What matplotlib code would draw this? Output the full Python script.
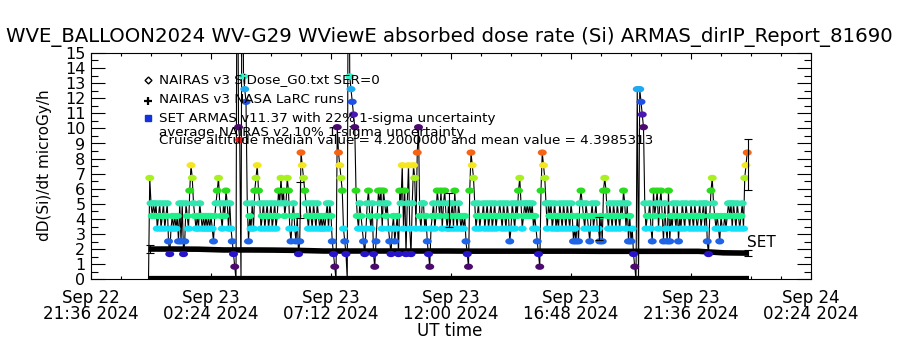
"""ARMAS balloon dose rate vs NAIRAS, WVE_BALLOON2024 flight."""

import matplotlib
matplotlib.use("Agg")
import matplotlib.dates as mdates
import matplotlib.pyplot as plt
import numpy as np
import pandas as pd
from matplotlib.path import Path
from matplotlib.ticker import FixedLocator, MultipleLocator

TITLE = "WVE_BALLOON2024 WV-G29 WViewE absorbed dose rate (Si) ARMAS_dirIP_Report_81690"

T_AXIS_START = pd.Timestamp("2024-09-22 21:36")
T_AXIS_END = pd.Timestamp("2024-09-24 02:24")

# ARMAS samples: 3-min cadence, one string per hour, one char per sample.
# char = dose level (int base 36): dose = level * 0.84 microGy/h, 'z' = off scale
ARMAS_START = pd.Timestamp("2024-09-22 23:54")
ARMAS_STEP_MIN = 3
DOSE_STEP = 0.84
ARMAS_HOURLY = [
    "08656564564564563245", "45453636236547986545", "46545454545435678654",
    "65764643210zcb0zgfe6", "35464789764564564564", "56457686756874356435",
    "23a98765465465465454", "54564653210ca9874320", "zgfedc75465432467546",
    "21357674765643245345", "276947269426984ac546", "64532145645765746754",
    "645647546545453217a9", "86456455645645645645", "56546546534654657864",
    "565656564543217a9864", "65645645465465465465", "34353676546543564564",
    "43537875465465465465", "76463534210f0fedc645", "56437567467536437354",
    "65463546546554654654", "56456463257865454354", "4545656465465456489a",
]

# ARMAS 22% 1-sigma error bars
ARMAS_ERR_TIMES = ["2024-09-23 05:58", "2024-09-23 11:55", "2024-09-23 17:55", "2024-09-23 23:53"]
ARMAS_ERR_CENTER = [5.26, 4.60, 3.37, 7.60]
ARMAS_ERR_HALF = [1.17, 1.10, 0.76, 1.70]

# NAIRAS v3 NASA LaRC runs, hourly from ARMAS_START
NAIRAS_HOURLY = [2.01, 2.01, 2.00, 1.95, 1.95, 1.94, 1.92, 1.88, 1.88, 1.88,
                 1.88, 1.88, 1.88, 1.87, 1.87, 1.87, 1.87, 1.87, 1.86, 1.86,
                 1.86, 1.86, 1.86, 1.76, 1.74]
NAIRAS_ERR_TIMES = ["2024-09-22 23:58", "2024-09-23 23:53"]
NAIRAS_ERR_CENTER = [2.01, 1.72]
NAIRAS_ERR_HALF = [0.25, 0.20]

# NAIRAS v3 SiDose_G0 SER=0
SIDOSE_TIMES = ["2024-09-22 23:54", "2024-09-23 23:54"]
SIDOSE_VALUES = [0.0, 0.0]

LEGEND_LINES = [
    "NAIRAS v3 SiDose_G0.txt SER=0",
    "NAIRAS v3 NASA LaRC runs",
    "SET ARMAS v11.37 with 22% 1-sigma uncertainty",
    "average NAIRAS v2 10% 1-sigma uncertainty",
    "Cruise altitude median value = 4.2000000 and mean value = 4.3985313",
]

LEVEL_COLORS = {
    0: "#000000", 1: "#4c0a6e", 2: "#2814c8", 3: "#1e64e6", 4: "#14e1f5",
    5: "#1ef08c", 6: "#32e6b0", 7: "#28dc1e", 8: "#a8f01e", 9: "#f5e61e",
    10: "#f56414", 11: "#e61414", 12: "#4c0a6e", 13: "#4a18b0", 14: "#1e50e6",
    15: "#1eaaf0", 16: "#32f0c8", 35: "#ffffff",
}


def dnum(ts):
    if isinstance(ts, pd.Timestamp):
        return mdates.date2num(ts.to_pydatetime())
    return mdates.date2num(pd.to_datetime(ts).to_pydatetime())


def main() -> None:
    levels = np.array([int(c, 36) for c in "".join(ARMAS_HOURLY)])
    armas_t = pd.date_range(ARMAS_START, periods=len(levels), freq=f"{ARMAS_STEP_MIN}min")
    armas_x = dnum(armas_t)
    armas_y = levels * DOSE_STEP
    nairas_x = dnum(pd.date_range(ARMAS_START, periods=len(NAIRAS_HOURLY), freq="1h"))

    # flat dot, a bit wider than tall like the IDL symbol
    ang = np.linspace(0, 2 * np.pi, 25)
    dot = Path(np.column_stack([np.cos(ang), 0.7 * np.sin(ang)]))

    fig = plt.figure(figsize=(9, 3.5), dpi=100)
    ax = fig.add_axes([91 / 900, 1 - 279.4 / 350, 720 / 900, 226.5 / 350])

    ax.plot(dnum(SIDOSE_TIMES), SIDOSE_VALUES, color="k", lw=4.5, solid_capstyle="butt", zorder=2)
    ax.plot(armas_x, armas_y, color="k", lw=0.8, zorder=2)
    ax.plot(nairas_x, NAIRAS_HOURLY, color="k", lw=4, solid_capstyle="butt", zorder=3)
    keep = levels > 0
    ax.scatter(armas_x[keep], armas_y[keep], c=[LEVEL_COLORS[l] for l in levels[keep]],
               s=42, marker=dot, linewidths=0, zorder=4)
    ax.errorbar(dnum(ARMAS_ERR_TIMES), ARMAS_ERR_CENTER, yerr=ARMAS_ERR_HALF, fmt="none",
                ecolor="k", elinewidth=0.8, capsize=2.8, capthick=0.8, zorder=5)
    ax.errorbar(dnum(NAIRAS_ERR_TIMES), NAIRAS_ERR_CENTER, yerr=NAIRAS_ERR_HALF, fmt="none",
                ecolor="k", elinewidth=0.8, capsize=2.8, capthick=0.8, zorder=5)
    ax.annotate("SET", xy=(nairas_x[-1], NAIRAS_HOURLY[-1]), xytext=(-1, 2),
                textcoords="offset points", ha="left", va="bottom", fontsize=11)

    ax.set_xlim(dnum(T_AXIS_START), dnum(T_AXIS_END))
    ax.set_ylim(0, 15)
    major = [T_AXIS_START + pd.Timedelta(minutes=288 * k) for k in range(7)]
    minor = [T_AXIS_START + pd.Timedelta(minutes=72 * k) for k in range(25)]
    ax.xaxis.set_major_locator(FixedLocator([dnum(t) for t in major]))
    ax.xaxis.set_minor_locator(FixedLocator([dnum(t) for t in minor]))
    ax.set_xticklabels([t.strftime("%b %d\n%H:%M %Y") for t in major])
    ax.yaxis.set_major_locator(MultipleLocator(1))
    ax.yaxis.set_minor_locator(MultipleLocator(0.5))
    ax.tick_params(axis="x", which="both", direction="in", top=True, bottom=True,
                   labelsize=12, pad=7, width=0.8)
    ax.tick_params(axis="x", which="major", length=4.5)
    ax.tick_params(axis="x", which="minor", length=2.2)
    ax.tick_params(axis="y", which="both", direction="in", left=True, right=True,
                   labelsize=11.5, pad=4, width=0.8)
    ax.tick_params(axis="y", which="major", length=10)
    ax.tick_params(axis="y", which="minor", length=5)
    for lbl in ax.get_xticklabels():
        lbl.set_linespacing(0.85)
    for sp in ax.spines.values():
        sp.set_linewidth(0.8)

    fig.text(449 / 900, 1 - 37 / 350, TITLE, fontsize=14.2, ha="center", va="center")
    fig.text(45 / 900, 1 - 165 / 350, "dD(Si)/dt microGy/h", rotation=90,
             fontsize=11, ha="center", va="center")
    fig.text(450 / 900, 1 - 331 / 350, "UT time", fontsize=12, ha="center", va="center")

    # legend block
    tf = fig.transFigure
    ax.plot([148 / 900], [1 - 80 / 350], marker="D", ms=3.5, mfc="white", mec="k", mew=1,
            transform=tf, clip_on=False)
    ax.plot([148 / 900], [1 - 101 / 350], marker="+", ms=6, mec="k", mew=1.6,
            transform=tf, clip_on=False)
    ax.plot([148 / 900], [1 - 118 / 350], marker="s", ms=4, mfc="#1432dc", mec="#1432dc",
            transform=tf, clip_on=False)
    for text, yc in zip(LEGEND_LINES, [80, 99, 118, 132, 141]):
        fig.text(159 / 900, 1 - yc / 350, text, fontsize=9.7, ha="left", va="center")

    fig.savefig("out.png", dpi=100)
    plt.close(fig)


if __name__ == "__main__":
    main()
